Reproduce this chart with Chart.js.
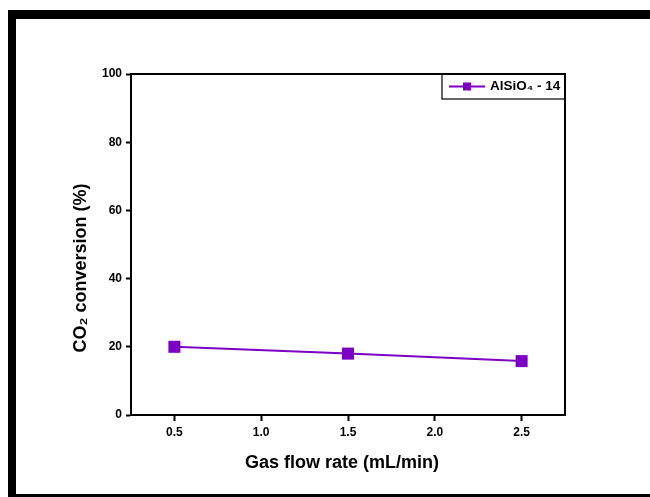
<!DOCTYPE html>
<html>
<head>
<meta charset="utf-8">
<script src="https://cdn.jsdelivr.net/npm/chart.js@4/dist/chart.umd.min.js"></script>
<style>
  html, body { margin: 0; padding: 0; background: #fff; overflow: hidden; }
  #wrap { position: relative; width: 650px; height: 497px; }
  #frame { position: absolute; left: 8px; top: 10px; width: 700px; height: 492px;
           border-top: 9px solid #000; border-left: 8px solid #000; border-bottom: 8px solid #000;
           box-sizing: border-box; }
  canvas { position: absolute; left: 0; top: 0; }
</style>
</head>
<body>
<div id="wrap">
  <div id="frame"></div>
  <canvas id="c" width="650" height="497"></canvas>
</div>
<script>
const flowRates = [0.5, 1.5, 2.5];
const conversion = [20, 18, 15.8];
const xTicks = [0.5, 1.0, 1.5, 2.0, 2.5];
const yTicks = [0, 20, 40, 60, 80, 100];
const seriesLabel = 'AlSiO\u2084 - 14';
const xTitle = 'Gas flow rate (mL/min)';
const yTitle = 'CO\u2082 conversion (%)';

const purple = '#7B00C4';
const FONT = '"Liberation Sans", Arial, sans-serif';

const framePlugin = {
  id: 'framePlugin',
  afterDraw(chart) {
    const ctx = chart.ctx, a = chart.chartArea;
    ctx.save();
    ctx.strokeStyle = '#000';
    ctx.lineWidth = 2;
    ctx.beginPath();
    ctx.moveTo(a.left, a.top);
    ctx.lineTo(a.right, a.top);
    ctx.lineTo(a.right, a.bottom);
    ctx.stroke();
    // axis titles
    ctx.fillStyle = '#000';
    ctx.font = 'bold 18px ' + FONT;
    ctx.textAlign = 'center';
    ctx.textBaseline = 'middle';
    ctx.fillText(xTitle, 342, 463);
    ctx.save();
    ctx.translate(81, 268);
    ctx.rotate(-Math.PI / 2);
    ctx.fillText(yTitle, 0, 0);
    ctx.restore();
    // legend box
    const ds = chart.data.datasets[0];
    const bx = 442, by = a.top, bw = a.right - 442, bh = 25;
    ctx.lineWidth = 1.2;
    ctx.strokeRect(bx, by, bw, bh);
    const cy = by + bh / 2;
    ctx.strokeStyle = ds.borderColor;
    ctx.lineWidth = 2;
    ctx.beginPath();
    ctx.moveTo(449, cy);
    ctx.lineTo(485, cy);
    ctx.stroke();
    ctx.fillStyle = ds.backgroundColor;
    ctx.fillRect(467 - 4, cy - 4, 8, 8);
    ctx.fillStyle = '#000';
    ctx.font = 'bold 13.5px ' + FONT;
    ctx.textBaseline = 'middle';
    ctx.textAlign = 'left';
    ctx.fillText(ds.label, 490, cy);
    ctx.restore();
  }
};

new Chart(document.getElementById('c'), {
  type: 'line',
  data: {
    datasets: [{
      label: seriesLabel,
      data: flowRates.map((x, i) => ({ x: x, y: conversion[i] })),
      borderColor: purple,
      backgroundColor: purple,
      borderWidth: 2,
      pointStyle: 'rect',
      pointRadius: 8.5,
      pointBorderWidth: 0,
      tension: 0
    }]
  },
  options: {
    responsive: false,
    animation: false,
    devicePixelRatio: 1,
    layout: { padding: { left: 0, top: 74, right: 85, bottom: 0 } },
    plugins: { legend: { display: false }, tooltip: { enabled: false } },
    scales: {
      x: {
        type: 'linear',
        min: 0.25, max: 2.75,
        afterBuildTicks: s => { s.ticks = xTicks.map(v => ({ value: v })); },
        afterFit: s => { s.height = 82; },
        border: { color: '#000', width: 2 },
        grid: { drawOnChartArea: false, tickLength: 6, tickColor: '#000', tickWidth: 2 },
        ticks: { color: '#000', font: { family: FONT, size: 12, weight: 'bold' }, padding: 4,
                 maxRotation: 0, callback: v => Number(v).toFixed(1) },
        title: { display: false }
      },
      y: {
        min: 0, max: 100,
        afterBuildTicks: s => { s.ticks = yTicks.map(v => ({ value: v })); },
        afterFit: s => { s.width = 131; },
        border: { color: '#000', width: 2 },
        grid: { drawOnChartArea: false, tickLength: 5, tickColor: '#000', tickWidth: 2 },
        ticks: { color: '#000', font: { family: FONT, size: 12, weight: 'bold' }, padding: 4 },
        title: { display: false }
      }
    }
  },
  plugins: [framePlugin]
});
</script>
</body>
</html>
